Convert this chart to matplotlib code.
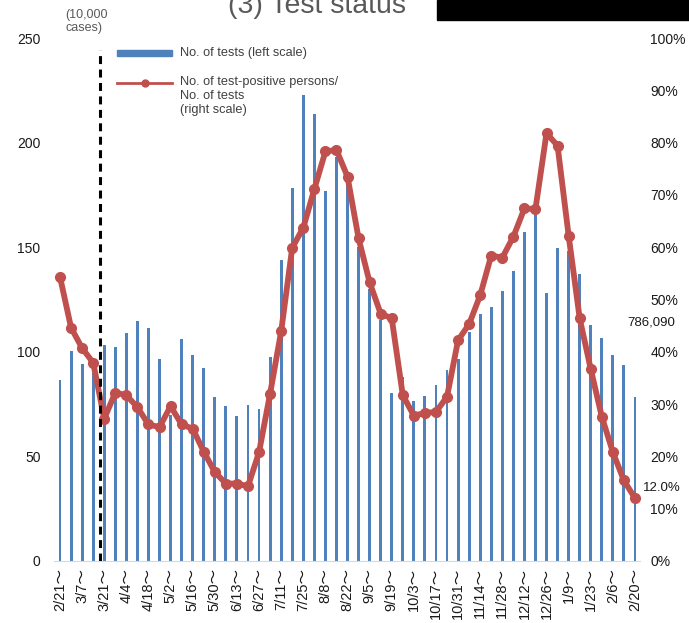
import numpy as np
import matplotlib
matplotlib.use('Agg')
import matplotlib.pyplot as plt
from matplotlib.lines import Line2D
from matplotlib.patches import Rectangle

plt.rcParams['font.family'] = ['Liberation Sans', 'Noto Sans CJK JP']

# week labels (every 2nd week)
tick_dates = ["2/21", "3/7", "3/21", "4/4", "4/18", "5/2", "5/16", "5/30", "6/13",
              "6/27", "7/11", "7/25", "8/8", "8/22", "9/5", "9/19", "10/3", "10/17",
              "10/31", "11/14", "11/28", "12/12", "12/26", "1/9", "1/23", "2/6", "2/20"]

# no. of tests per week (10,000 cases)
tests = [86.5, 100.4, 94, 90, 103.2, 102.4, 108.8, 114.9, 111.4, 96.6,
         70, 106.1, 98.5, 92.4, 78.4, 74.1, 69.2, 74.6, 72.7, 97.4,
         143.9, 178.5, 222.8, 213.7, 176.9, 193, 180, 150, 130, 115,
         80.2, 88.1, 76.6, 78.9, 84, 91.3, 96.4, 109.6, 118, 121.5,
         129, 138.5, 157.1, 168, 128.3, 149.5, 148, 137.2, 112.8, 106.8,
         98.5, 93.7, 78.609]

# test-positive persons / tests (%)
positive_rate = [54.3, 44.6, 40.7, 37.9, 27.2, 32.2, 31.7, 29.4, 26.1, 25.6,
                 29.6, 26.1, 25.3, 20.9, 17.0, 14.8, 14.8, 14.3, 20.8, 32.0,
                 43.9, 59.9, 63.7, 71.1, 78.3, 78.6, 73.5, 61.7, 53.3, 47.3,
                 46.4, 31.7, 27.8, 28.3, 28.5, 31.4, 42.2, 45.3, 50.8, 58.4,
                 58.0, 62.0, 67.4, 67.3, 81.8, 79.4, 62.2, 46.4, 36.7, 27.6,
                 20.8, 15.4, 12.0]

left_ticks = [0, 50, 100, 150, 200, 250]
right_ticks = [0, 10, 20, 30, 40, 50, 60, 70, 80, 90, 100]
marker_week = 3.6  # dashed vertical line

W, H = 689, 623
blue = '#4F81BD'
red = '#C0504D'
grey = '#595959'

fig = plt.figure(figsize=(W / 100, H / 100), dpi=100)
ax = fig.add_axes([54.5 / W, 1 - 561 / H, 586 / W, 523 / H])

x = np.arange(len(tests))
ax.bar(x, tests, width=0.26, color=blue, zorder=1)
ax.set_xlim(-0.5, len(tests) - 0.5)
ax.set_ylim(0, 250)
ax.set_yticks(left_ticks)
ax.set_xticks(x[::2])
ax.set_xticklabels([d + '～' for d in tick_dates], rotation=90, ha='center', va='top')
ax.tick_params(axis='x', length=0, pad=5, labelsize=10.5, labelcolor='#1a1a1a')
ax.tick_params(axis='y', length=0, pad=10, labelsize=10, labelcolor='#1a1a1a')
for s in ['top', 'left', 'right']:
    ax.spines[s].set_visible(False)
ax.spines['bottom'].set_color('#D9D9D9')

ax2 = ax.twinx()
ax2.plot(x, np.array(positive_rate) / 100, color=red, lw=4.2, marker='o', ms=7,
         zorder=2)
ax2.set_ylim(0, 1)
ax2.set_yticks([t / 100 for t in right_ticks])
ax2.set_yticklabels([f"{t}%" for t in right_ticks])
ax2.tick_params(axis='y', length=0, pad=7, labelsize=10, labelcolor='#1a1a1a')
for s in ax2.spines.values():
    s.set_visible(False)
ax2.axvline(marker_week, ymin=0, ymax=0.978, color='black', lw=2.2,
            dashes=(2.6, 1.8), zorder=3)

# data labels for the last week
ax.annotate(f"{tests[-1] * 10000:,.0f}", xy=(x[-1], tests[-1]), xytext=(12, 53),
            textcoords='offset points', ha='center', va='center', fontsize=9.5,
            color='#1a1a1a', annotation_clip=False)
ax2.annotate(f"{positive_rate[-1]:.1f}%", xy=(x[-1], positive_rate[-1] / 100),
             xytext=(19, 7.5), textcoords='offset points', ha='center', va='center',
             fontsize=9.5, color='#1a1a1a', annotation_clip=False)

# legend drawn by hand
fig.add_artist(Rectangle((117 / W, 1 - 56 / H), 55 / W, 6 / H, transform=fig.transFigure,
                         color=blue))
fig.text(180 / W, 1 - 53 / H, "No. of tests (left scale)", fontsize=9.2, color='#404040',
         va='center')
fig.add_artist(Line2D([117 / W, 144.5 / W, 172 / W], [1 - 83 / H] * 3, color=red, lw=2,
                      marker='o', ms=5, markevery=[1], transform=fig.transFigure))
fig.text(180 / W, 1 - 76 / H, "No. of test-positive persons/\nNo. of tests\n(right scale)",
         fontsize=9.2, color='#404040', va='top', linespacing=1.25)

fig.text(65 / W, 1 - 9 / H, "(10,000\ncases)", fontsize=9, color=grey, va='top',
         linespacing=1.15)

# header (cut at top in the source)
fig.text(228 / W, 1 - 13 / H, "(3) Test status", fontsize=20.5, color=grey, va='baseline')
fig.add_artist(Rectangle((437 / W, 1 - 20 / H), 252 / W, 20 / H, transform=fig.transFigure,
                         color='black'))

fig.savefig('out.png', dpi=100)
